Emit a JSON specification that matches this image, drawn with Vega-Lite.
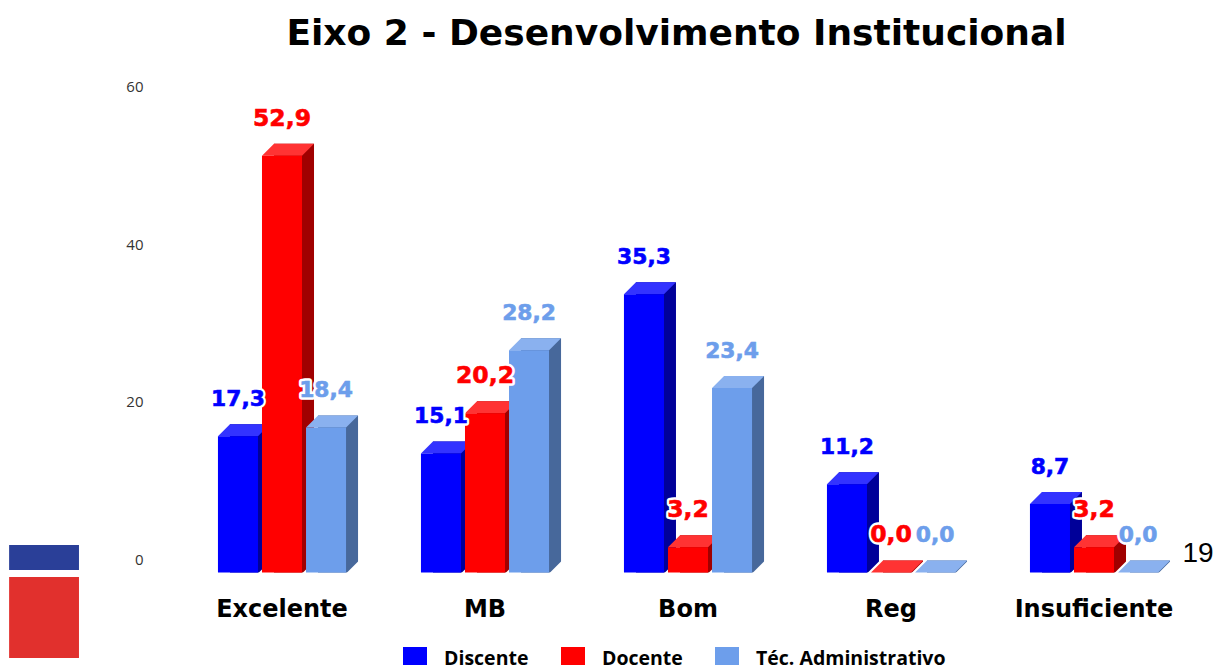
{
"$schema":"https://vega.github.io/schema/vega-lite/v6.json",
"width":1215,"height":665,"autosize":{"type":"none"},"padding":0,"background":"white",
"config":{"view":{"stroke":null}},
"title":{"text":"Eixo 2 - Desenvolvimento Institucional","font":"DejaVu Sans","fontWeight":"bold","fontSize":36,"color":"#000000","anchor":"middle","dx":69,"offset":-53},
"datasets":{
"bars":[
{"cat":"Excelente","serie":"Discente","valor":17.3,"rotulo":"17,3"},
{"cat":"Excelente","serie":"Docente","valor":52.9,"rotulo":"52,9"},
{"cat":"Excelente","serie":"Téc. Administrativo","valor":18.4,"rotulo":"18,4"},
{"cat":"MB","serie":"Discente","valor":15.1,"rotulo":"15,1"},
{"cat":"MB","serie":"Docente","valor":20.2,"rotulo":"20,2"},
{"cat":"MB","serie":"Téc. Administrativo","valor":28.2,"rotulo":"28,2"},
{"cat":"Bom","serie":"Discente","valor":35.3,"rotulo":"35,3"},
{"cat":"Bom","serie":"Docente","valor":3.2,"rotulo":"3,2"},
{"cat":"Bom","serie":"Téc. Administrativo","valor":23.4,"rotulo":"23,4"},
{"cat":"Reg","serie":"Discente","valor":11.2,"rotulo":"11,2"},
{"cat":"Reg","serie":"Docente","valor":0,"rotulo":"0,0"},
{"cat":"Reg","serie":"Téc. Administrativo","valor":0,"rotulo":"0,0"},
{"cat":"Insuficiente","serie":"Discente","valor":8.7,"rotulo":"8,7"},
{"cat":"Insuficiente","serie":"Docente","valor":3.2,"rotulo":"3,2"},
{"cat":"Insuficiente","serie":"Téc. Administrativo","valor":0,"rotulo":"0,0"}
]},
"resolve":{"scale":{"x":"independent","xOffset":"independent"},"axis":{"x":"independent"}},
"layer":[
{
"data":{"values":[{"p0":0.75,"p1":6.5,"v0":3.49,"v1":0.32,"parte":"azul"},{"p0":0.75,"p1":6.5,"v0":-0.57,"v1":-10.85,"parte":"vermelho"}]},
"mark":{"type":"rect"},
"encoding":{
"x":{"field":"p0","type":"quantitative","scale":{"domain":[0,100],"range":[0,1215]},"axis":null},
"x2":{"field":"p1"},
"y":{"field":"v0","type":"quantitative","scale":{"domain":[-11.74,72.65],"nice":false,"zero":false},
 "axis":{"title":null,"values":[0,20,40,60],"grid":false,"domain":false,"ticks":false,"offset":-143,"labelPadding":0,"labelOffset":-13,"labelFont":"Open Sans","labelFontSize":15,"labelColor":"#333333"}},
"y2":{"field":"v1"},
"fill":{"condition":{"test":"datum.parte==='azul'","value":"#2A3F98"},"value":"#E1302D"}
}
},
{
"data":{"name":"bars"},
"mark":{"type":"bar","yOffset":-12},
"encoding":{
"x":{"field":"cat","type":"nominal","sort":["Excelente","MB","Bom","Reg","Insuficiente"],
 "scale":{"type":"band","range":[192.5,1207.5],"paddingInner":0.369,"paddingOuter":0.1845},"axis":null},
"xOffset":{"field":"serie","type":"nominal","sort":["Discente","Docente","Téc. Administrativo"],"scale":{"paddingInner":0.0909,"paddingOuter":0}},
"y":{"field":"valor","type":"quantitative",
 "axis":{"title":null,"values":[0,20,40,60],"grid":false,"domain":false,"ticks":false,"offset":-143,"labelPadding":0,"labelOffset":-13,"labelFont":"Open Sans","labelFontSize":15,"labelColor":"#333333"}},
"y2":{"datum":0},
"fill":{"condition":[{"test":"datum.serie==='Discente'","value":"#000099"},{"test":"datum.serie==='Docente'","value":"#A00000"}],"value":"#47689B"}
}
},
{
"data":{"name":"bars"},
"encoding":{
"x":{"field":"cat","type":"nominal","sort":["Excelente","MB","Bom","Reg","Insuficiente"],
 "scale":{"type":"band","range":[180.5,1195.5],"paddingInner":0.369,"paddingOuter":0.1845},
 "axis":{"orient":"bottom","title":null,"offset":-68,"labelAngle":0,"domain":false,"ticks":false,"labelPadding":0,"labelFont":"DejaVu Sans","labelFontWeight":"bold","labelFontSize":24,"labelColor":"#000000"}},
"xOffset":{"field":"serie","type":"nominal","sort":["Discente","Docente","Téc. Administrativo"],"scale":{"paddingInner":0.0909,"paddingOuter":0}},
"y":{"field":"valor","type":"quantitative",
 "axis":{"title":null,"values":[0,20,40,60],"grid":false,"domain":false,"ticks":false,"offset":-143,"labelPadding":0,"labelOffset":-13,"labelFont":"Open Sans","labelFontSize":15,"labelColor":"#333333"}}
},
"layer":[
{"mark":{"type":"point","filled":true,"opacity":1,"size":4,"strokeWidth":0,"fill":"#ffffff","shape":"M20 1L33 1L33 -12Z"},
 "encoding":{"y":{"datum":0,"type":"quantitative"}}},
{"mark":{"type":"point","filled":true,"opacity":1,"size":4,"strokeWidth":0,"shape":"M-20 0L-8 -12L32 -12L20 0Z"},
 "encoding":{"fill":{"condition":[{"test":"datum.serie==='Discente'","value":"#3333FF"},{"test":"datum.serie==='Docente'","value":"#FF3333"}],"value":"#8AB1EF"}}},
{"mark":{"type":"bar"},
 "encoding":{"y2":{"datum":0},"color":{"field":"serie","type":"nominal","sort":["Discente","Docente","Téc. Administrativo"],
 "scale":{"domain":["Discente","Docente","Téc. Administrativo"],"range":["#0000FF","#FF0000","#6D9EEB"]},
 "legend":{"title":null,"orient":"none","legendX":403,"legendY":647,"direction":"horizontal","columns":3,"symbolType":"square","symbolSize":576,"symbolStrokeWidth":0,"labelFont":"Open Sans","labelFontWeight":"bold","labelFontSize":19.5,"labelColor":"#000000","labelOffset":17,"labelLimit":400,"columnPadding":32}}}},
{"mark":{"type":"text","dy":-37,"baseline":"middle","align":"center","font":"DejaVu Sans","fontWeight":"bold","stroke":"#ffffff","strokeWidth":5.5,"strokeJoin":"round","fill":"#ffffff"},
 "encoding":{"text":{"field":"rotulo"},"size":{"condition":{"test":"datum.serie==='Docente'","value":23.5},"value":21.8}}},
{"mark":{"type":"text","dy":-37,"baseline":"middle","align":"center","font":"DejaVu Sans","fontWeight":"bold","strokeWidth":0.6},
 "encoding":{"text":{"field":"rotulo"},"size":{"condition":{"test":"datum.serie==='Docente'","value":23.5},"value":21.8},
 "fill":{"condition":[{"test":"datum.serie==='Discente'","value":"#0000FF"},{"test":"datum.serie==='Docente'","value":"#FF0000"}],"value":"#6D9EEB"},
 "stroke":{"condition":[{"test":"datum.serie==='Discente'","value":"#0000FF"},{"test":"datum.serie==='Docente'","value":"#FF0000"}],"value":"#6D9EEB"}}},
{"data":{"values":[{"cat":"Insuficiente","serie":"Téc. Administrativo","nivel":2.4,"pagina":"19"}]},
 "mark":{"type":"text","dx":60,"baseline":"middle","align":"center","font":"Liberation Sans","fontSize":28,"fill":"#000000"},
 "encoding":{"y":{"field":"nivel","type":"quantitative"},"text":{"field":"pagina"}}}
]
}
]
}
